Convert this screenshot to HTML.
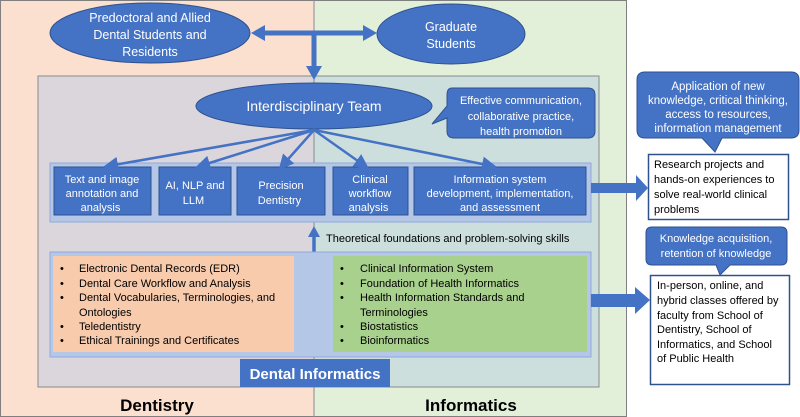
<!DOCTYPE html>
<html><head><meta charset="utf-8"><style>
html,body{margin:0;padding:0;background:#fff}
svg{display:block}
text{font-family:"Liberation Sans",sans-serif}
</style></head><body>
<svg width="800" height="417" viewBox="0 0 800 417" xmlns="http://www.w3.org/2000/svg">
<defs>
<marker id="ah" markerWidth="6" markerHeight="6" refX="4" refY="3" orient="auto" markerUnits="strokeWidth"><path d="M0,0 L6,3 L0,6 z" fill="#4472c4"/></marker>
</defs>
<rect x="0" y="0" width="314" height="417" fill="#fbe0d0"/>
<rect x="314" y="0" width="313" height="417" fill="#e2efd9"/>
<rect x="0.5" y="0.5" width="626" height="416" fill="none" stroke="#7f7f7f" stroke-width="1"/>
<line x1="314" y1="0" x2="314" y2="417" stroke="#8a8a8a" stroke-width="1"/>
<rect x="38" y="76" width="276" height="311" fill="#dbd6db"/>
<rect x="314" y="76" width="285" height="311" fill="#ccdfdd"/>
<rect x="38" y="76" width="561" height="311" fill="none" stroke="#8a8a8a"/>
<line x1="314" y1="76" x2="314" y2="387" stroke="#8a8a8a"/>
<line x1="262" y1="33" x2="366" y2="33" stroke="#4472c4" stroke-width="5"/>
<path d="M251,33 L265,25 L265,41 z" fill="#4472c4"/>
<path d="M377,33 L363,25 L363,41 z" fill="#4472c4"/>
<line x1="314" y1="33" x2="314" y2="68" stroke="#4472c4" stroke-width="5"/>
<path d="M314,80 L306,66 L322,66 z" fill="#4472c4"/>
<ellipse cx="150" cy="33" rx="100" ry="30" fill="#4472c4" stroke="#2f528f"/>
<text fill="#fff" font-size="12.5" text-anchor="middle"><tspan x="150" y="22">Predoctoral and Allied</tspan><tspan x="150" y="39">Dental Students and</tspan><tspan x="150" y="56">Residents</tspan></text>
<ellipse cx="451" cy="34" rx="74" ry="30" fill="#4472c4" stroke="#2f528f"/>
<text fill="#fff" font-size="12.5" text-anchor="middle"><tspan x="451" y="31">Graduate</tspan><tspan x="451" y="48">Students</tspan></text>
<ellipse cx="314" cy="106" rx="118" ry="23" fill="#4472c4" stroke="#2f528f"/>
<text x="314" y="111" fill="#fff" font-size="14" text-anchor="middle">Interdisciplinary Team</text>
<path d="M452,88 H588 Q595,88 595,95 V131 Q595,138 588,138 H454 Q447,138 447,131 V118 L432,124 L447,106 V95 Q447,88 452,88 z" fill="#4472c4" stroke="#2f528f"/>
<text fill="#fff" font-size="11" text-anchor="middle"><tspan x="521" y="104">Effective communication,</tspan><tspan x="521" y="120">collaborative practice,</tspan><tspan x="521" y="135">health promotion</tspan></text>
<rect x="50" y="163" width="541" height="59" fill="#b4c7e7" stroke="#8faadc"/>
<g fill="#4472c4" stroke="#2f528f">
<rect x="54" y="167" width="97" height="48"/><rect x="159" y="167" width="72" height="48"/><rect x="237" y="167" width="88" height="48"/><rect x="333" y="167" width="75" height="48"/><rect x="414" y="167" width="172" height="48"/>
</g>
<g stroke="#4472c4" stroke-width="2.5" marker-end="url(#ah)">
<line x1="314" y1="130" x2="108" y2="166"/><line x1="314" y1="130" x2="200" y2="166"/><line x1="314" y1="130" x2="282" y2="166"/><line x1="314" y1="130" x2="365" y2="166"/><line x1="314" y1="130" x2="492" y2="166"/>
</g>
<text fill="#fff" font-size="11" text-anchor="middle">
<tspan x="102" y="183">Text and image</tspan><tspan x="102" y="197">annotation and</tspan><tspan x="102" y="211">analysis</tspan>
<tspan x="195" y="189">AI, NLP and</tspan><tspan x="195" y="204">LLM</tspan>
<tspan x="281" y="189">Precision</tspan><tspan x="281" y="204">Dentistry</tspan>
<tspan x="370" y="183">Clinical</tspan><tspan x="370" y="197">workflow</tspan><tspan x="370" y="211">analysis</tspan>
<tspan x="500" y="183">Information system</tspan><tspan x="500" y="197">development, implementation,</tspan><tspan x="500" y="211">and assessment</tspan>
</text>
<line x1="314" y1="252" x2="314" y2="236" stroke="#4472c4" stroke-width="3.5"/>
<path d="M314,226 L308,237 L320,237 z" fill="#4472c4"/>
<text x="326" y="242" font-size="11" fill="#000">Theoretical foundations and problem-solving skills</text>
<rect x="50" y="252" width="541" height="105" fill="#b4c7e7" stroke="#8faadc"/>
<rect x="53" y="256" width="241" height="96" fill="#f8cbad"/>
<rect x="333" y="256" width="254" height="96" fill="#a9d18e"/>
<text font-size="11" fill="#000">
<tspan x="60" y="272">•</tspan><tspan x="79" y="272">Electronic Dental Records (EDR)</tspan>
<tspan x="60" y="287">•</tspan><tspan x="79" y="287">Dental Care Workflow and Analysis</tspan>
<tspan x="60" y="301">•</tspan><tspan x="79" y="301">Dental Vocabularies, Terminologies, and</tspan>
<tspan x="79" y="316">Ontologies</tspan>
<tspan x="60" y="330">•</tspan><tspan x="79" y="330">Teledentistry</tspan>
<tspan x="60" y="344">•</tspan><tspan x="79" y="344">Ethical Trainings and Certificates</tspan>
<tspan x="340" y="272">•</tspan><tspan x="360" y="272">Clinical Information System</tspan>
<tspan x="340" y="287">•</tspan><tspan x="360" y="287">Foundation of Health Informatics</tspan>
<tspan x="340" y="301">•</tspan><tspan x="360" y="301">Health Information Standards and</tspan>
<tspan x="360" y="316">Terminologies</tspan>
<tspan x="340" y="330">•</tspan><tspan x="360" y="330">Biostatistics</tspan>
<tspan x="340" y="344">•</tspan><tspan x="360" y="344">Bioinformatics</tspan>
</text>
<rect x="240" y="359" width="150" height="28" fill="#4472c4"/>
<text x="315" y="379" font-size="15" font-weight="bold" fill="#fff" text-anchor="middle">Dental Informatics</text>
<text x="157" y="411" font-size="17" font-weight="bold" text-anchor="middle">Dentistry</text>
<text x="471" y="411" font-size="17" font-weight="bold" text-anchor="middle">Informatics</text>
<rect x="591" y="183" width="47" height="10" fill="#4472c4"/>
<path d="M648,188 L636,175 L636,201 z" fill="#4472c4"/>
<rect x="591" y="294" width="47" height="13" fill="#4472c4"/>
<path d="M650,300 L635,287 L635,314 z" fill="#4472c4"/>
<path d="M645,72 H791 Q799,72 799,80 V130 Q799,138 791,138 H722 L715,152 L702,138 H645 Q637,138 637,130 V80 Q637,72 645,72 z" fill="#4472c4" stroke="#2f528f"/>
<text fill="#fff" font-size="11.5" text-anchor="middle"><tspan x="718" y="90">Application of new</tspan><tspan x="718" y="104">knowledge, critical thinking,</tspan><tspan x="718" y="118">access to resources,</tspan><tspan x="718" y="132">information management</tspan></text>
<rect x="648.5" y="154.5" width="140" height="65" fill="#fff" stroke="#2f528f" stroke-width="1.5"/>
<text font-size="11" fill="#000"><tspan x="654" y="168">Research projects and</tspan><tspan x="654" y="183">hands-on experiences to</tspan><tspan x="654" y="198">solve real-world clinical</tspan><tspan x="654" y="213">problems</tspan></text>
<path d="M652,227 H781 Q787,227 787,233 V259 Q787,265 781,265 H730 L720,275 L716,265 H652 Q646,265 646,259 V233 Q646,227 652,227 z" fill="#4472c4" stroke="#2f528f"/>
<text fill="#fff" font-size="11" text-anchor="middle"><tspan x="716" y="242">Knowledge acquisition,</tspan><tspan x="716" y="257">retention of knowledge</tspan></text>
<rect x="650.5" y="275.5" width="139" height="109" fill="#fff" stroke="#2f528f" stroke-width="1.5"/>
<text font-size="11" fill="#000"><tspan x="657" y="289">In-person, online, and</tspan><tspan x="657" y="304">hybrid classes offered by</tspan><tspan x="657" y="319">faculty from School of</tspan><tspan x="657" y="333">Dentistry, School of</tspan><tspan x="657" y="348">Informatics, and School</tspan><tspan x="657" y="362">of Public Health</tspan></text>
</svg>
</body></html>
